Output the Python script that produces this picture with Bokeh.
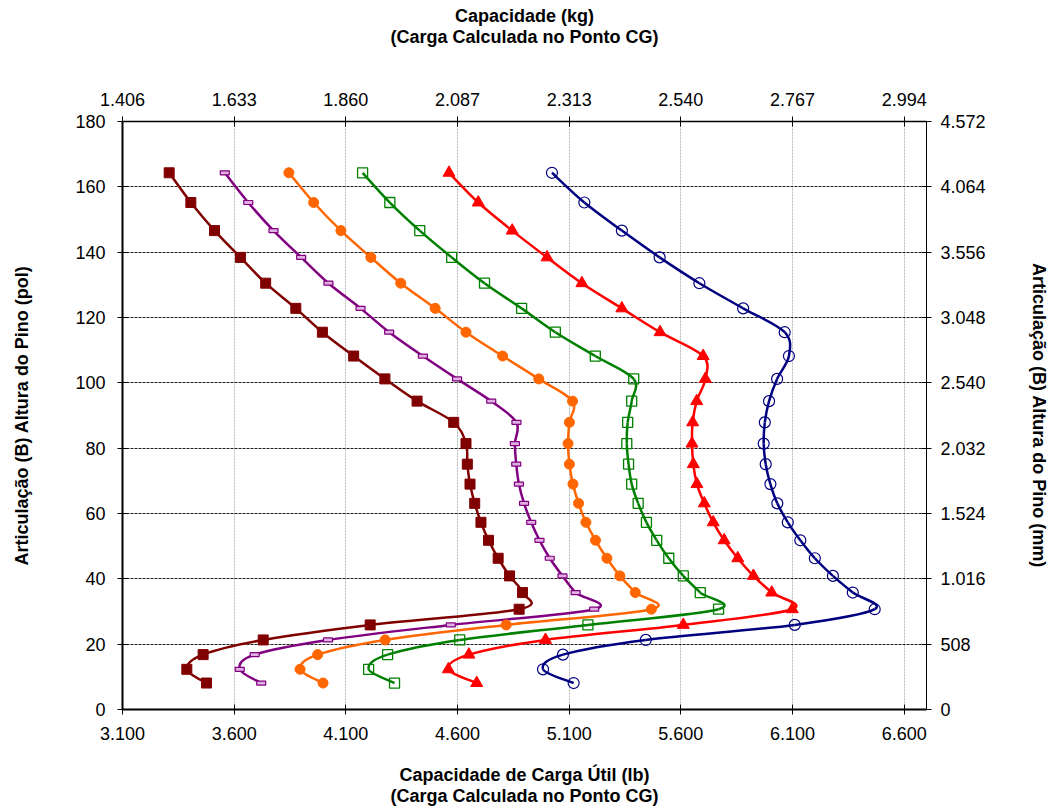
from bokeh.plotting import figure
from bokeh.models import Range1d, LinearAxis, FixedTicker
from bokeh.embed import file_html
from bokeh.resources import INLINE

# ---------------- data ----------------
pin_height_pol = [164.3, 155.2, 146.6, 138.4, 130.5, 122.8, 115.5, 108.2, 101.2, 94.4,
                  87.9, 81.4, 75.1, 69.0, 63.1, 57.3, 51.8, 46.3, 40.9, 35.8,
                  30.7, 25.9, 21.3, 16.8, 12.3, 8.1]

cap_brown = [3.309, 3.406, 3.512, 3.628, 3.741, 3.876, 3.995, 4.135, 4.275, 4.419,
             4.583, 4.638, 4.644, 4.656, 4.677, 4.705, 4.739, 4.782, 4.833, 4.891,
             4.876, 4.209, 3.730, 3.461, 3.388, 3.476]
cap_purple = [3.558, 3.663, 3.776, 3.900, 4.022, 4.166, 4.294, 4.445, 4.598, 4.751,
              4.864, 4.857, 4.863, 4.875, 4.898, 4.930, 4.967, 5.013, 5.070, 5.129,
              5.212, 4.570, 4.020, 3.692, 3.625, 3.721]
cap_orange = [3.845, 3.956, 4.078, 4.212, 4.346, 4.500, 4.638, 4.802, 4.964, 5.115,
              5.101, 5.095, 5.101, 5.117, 5.142, 5.175, 5.218, 5.269, 5.327, 5.396,
              5.468, 4.818, 4.276, 3.974, 3.895, 3.998]
cap_green = [4.175, 4.297, 4.431, 4.574, 4.721, 4.887, 5.038, 5.217, 5.389, 5.380,
             5.362, 5.358, 5.366, 5.380, 5.409, 5.446, 5.492, 5.546, 5.611, 5.687,
             5.769, 5.184, 4.610, 4.287, 4.202, 4.318]
cap_red = [4.562, 4.693, 4.845, 5.001, 5.157, 5.336, 5.507, 5.700, 5.710, 5.671,
           5.653, 5.650, 5.656, 5.672, 5.705, 5.745, 5.794, 5.855, 5.925, 6.007,
           6.099, 5.611, 4.994, 4.651, 4.559, 4.686]
cap_blue = [5.023, 5.168, 5.336, 5.505, 5.683, 5.879, 6.065, 6.084, 6.031, 5.995,
            5.976, 5.971, 5.980, 6.001, 6.032, 6.079, 6.135, 6.200, 6.281, 6.370,
            6.468, 6.110, 5.443, 5.072, 4.983, 5.120]

x_ticks_lb = [3.1, 3.6, 4.1, 4.6, 5.1, 5.6, 6.1, 6.6]
x_labels_lb = ["3.100", "3.600", "4.100", "4.600", "5.100", "5.600", "6.100", "6.600"]
x_labels_kg = ["1.406", "1.633", "1.860", "2.087", "2.313", "2.540", "2.767", "2.994"]
y_ticks_pol = [0, 20, 40, 60, 80, 100, 120, 140, 160, 180]
y_labels_mm = ["0", "508", "1.016", "1.524", "2.032", "2.540", "3.048", "3.556", "4.064", "4.572"]

FONT = "Liberation Sans"

p = figure(width=1052, height=808, output_backend="svg", toolbar_location=None,
           x_range=Range1d(3.1, 6.7), y_range=Range1d(0, 180),
           min_border_left=122, min_border_right=126, min_border_top=121, min_border_bottom=99,
           background_fill_color="white", border_fill_color="white")
p.outline_line_color = None

# grids
p.xgrid.ticker = FixedTicker(ticks=x_ticks_lb)
p.xgrid.grid_line_color = "#b8b8b8"
p.xgrid.grid_line_dash = "2 1"
p.xgrid.grid_line_width = 1
p.ygrid.ticker = FixedTicker(ticks=y_ticks_pol)
p.ygrid.grid_line_color = "#202020"
p.ygrid.grid_line_dash = "3 1"
p.ygrid.grid_line_width = 1


def style_axis(ax, width):
    ax.axis_line_color = "black"
    ax.axis_line_width = width
    ax.major_tick_line_color = "black"
    ax.major_tick_in = 5
    ax.major_tick_out = 5
    ax.minor_tick_line_color = None
    ax.major_label_text_font = FONT
    ax.major_label_text_font_size = "18px"
    ax.major_label_text_color = "black"
    ax.axis_label_text_font = FONT
    ax.axis_label_text_font_size = "18px"
    ax.axis_label_text_font_style = "bold"
    ax.axis_label_text_color = "black"
    ax.axis_label_text_line_height = 1.05


# bottom axis
xb = p.xaxis[0]
xb.ticker = FixedTicker(ticks=x_ticks_lb)
xb.major_label_overrides = {t: s for t, s in zip(x_ticks_lb, x_labels_lb)}
style_axis(xb, 2)
xb.major_label_standoff = 12
xb.axis_label = "Capacidade de Carga Útil (lb)\n(Carga Calculada no Ponto CG)"
xb.axis_label_standoff = 22

# left axis
yl = p.yaxis[0]
yl.ticker = FixedTicker(ticks=y_ticks_pol)
style_axis(yl, 2)
yl.major_label_standoff = 12
yl.axis_label = "Articulação (B) Altura do Pino (pol)"
yl.axis_label_standoff = 40

# top axis (kg)
xt = LinearAxis(ticker=FixedTicker(ticks=x_ticks_lb))
xt.major_label_overrides = {t: s for t, s in zip(x_ticks_lb, x_labels_kg)}
style_axis(xt, 1.5)
xt.major_label_standoff = 11
xt.axis_label = "Capacidade (kg)\n(Carga Calculada no Ponto CG)"
xt.axis_label_standoff = 43
p.add_layout(xt, "above")

# right axis (mm)
yr = LinearAxis(ticker=FixedTicker(ticks=y_ticks_pol))
yr.major_label_overrides = {t: s for t, s in zip(y_ticks_pol, y_labels_mm)}
style_axis(yr, 1)
yr.major_label_standoff = 9
yr.axis_label = "Articulação (B) Altura do Pino (mm)"
yr.axis_label_standoff = 40
p.add_layout(yr, "right")


def smooth(xs, ys):
    n = len(xs)
    seg = dict(x0=[], y0=[], x1=[], y1=[], cx0=[], cy0=[], cx1=[], cy1=[])
    for i in range(n - 1):
        a = max(i - 1, 0)
        d = min(i + 2, n - 1)
        seg["x0"].append(xs[i]); seg["y0"].append(ys[i])
        seg["x1"].append(xs[i + 1]); seg["y1"].append(ys[i + 1])
        seg["cx0"].append(xs[i] + (xs[i + 1] - xs[a]) / 6.0)
        seg["cy0"].append(ys[i] + (ys[i + 1] - ys[a]) / 6.0)
        seg["cx1"].append(xs[i + 1] - (xs[d] - xs[i]) / 6.0)
        seg["cy1"].append(ys[i + 1] - (ys[d] - ys[i]) / 6.0)
    return seg


series = [
    (cap_brown, "#800000"),
    (cap_purple, "#800080"),
    (cap_orange, "#FF6600"),
    (cap_green, "#008000"),
    (cap_red, "#FF0000"),
    (cap_blue, "#000080"),
]

for xs, col in series:
    s = smooth(xs, pin_height_pol)
    p.bezier(x0=s["x0"], y0=s["y0"], x1=s["x1"], y1=s["y1"],
             cx0=s["cx0"], cy0=s["cy0"], cx1=s["cx1"], cy1=s["cy1"],
             line_color=col, line_width=2.5)

# markers
p.scatter(cap_brown, pin_height_pol, marker="square", size=10,
          fill_color="#800000", line_color="#800000")
p.rect(cap_purple, pin_height_pol, width=9, height=4, width_units="screen",
       height_units="screen", fill_color="#e0b0e0", line_color="#800080", line_width=1.2)
p.scatter(cap_orange, pin_height_pol, marker="circle", size=10,
          fill_color="#FF6600", line_color="#FF6600")
p.scatter(cap_green, pin_height_pol, marker="square", size=10,
          fill_color=None, line_color="#008000", line_width=1.3)
p.scatter(cap_red, pin_height_pol, marker="triangle", size=12,
          fill_color="#FF0000", line_color="#FF0000")
p.scatter(cap_blue, pin_height_pol, marker="circle", size=11,
          fill_color=None, line_color="#000080", line_width=1.2)

open("out.html", "w").write(file_html(p, INLINE))
